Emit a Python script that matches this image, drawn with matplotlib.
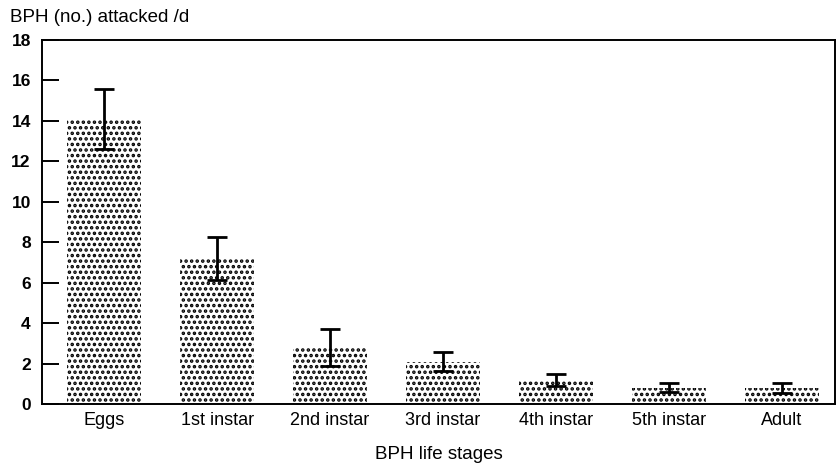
import numpy as np
import matplotlib.pyplot as plt

# BPH life stages and number attacked per day (mean +/- error)
stages = ['Eggs', '1st instar', '2nd instar', '3rd instar', '4th instar', '5th instar', 'Adult']
attacked = [14.1, 7.2, 2.8, 2.1, 1.2, 0.8, 0.8]
err = [1.5, 1.05, 0.9, 0.45, 0.3, 0.22, 0.25]
yticks = [0, 2, 4, 6, 8, 10, 12, 14, 16, 18]

plt.rcParams['font.family'] = ['Liberation Sans', 'DejaVu Sans']
plt.rcParams['hatch.linewidth'] = 1.7
plt.rcParams['hatch.color'] = 'black'

fig = plt.figure(figsize=(8.36, 4.68), dpi=100)
ax = fig.add_axes([0.0502, 0.1368, 0.9486, 0.7777])

x = np.arange(len(stages))
ax.bar(x, attacked, width=0.66, color='white', edgecolor='black',
       linewidth=0, hatch='...')
ax.errorbar(x, attacked, yerr=err, fmt='none', ecolor='black',
            elinewidth=2.0, capsize=7, capthick=2.0)

ax.set_xlim(-0.55, 6.47)
ax.set_ylim(0, 18)
ax.set_yticks(yticks)
ax.set_xticks(x)
ax.set_xticklabels(stages)
ax.tick_params(axis='y', direction='in', length=12.5, width=1.4, pad=8, labelsize=12.5)
ax.tick_params(axis='x', length=0, pad=6, labelsize=13)
for lbl in ax.get_yticklabels():
    lbl.set_fontweight('bold')
for s in ax.spines.values():
    s.set_linewidth(1.4)

ax.set_xlabel('BPH life stages', fontsize=13.5, labelpad=12)
fig.text(0.012, 0.962, 'BPH (no.) attacked /d', fontsize=13.5, ha='left', va='center')

fig.savefig('out.png', dpi=100)
